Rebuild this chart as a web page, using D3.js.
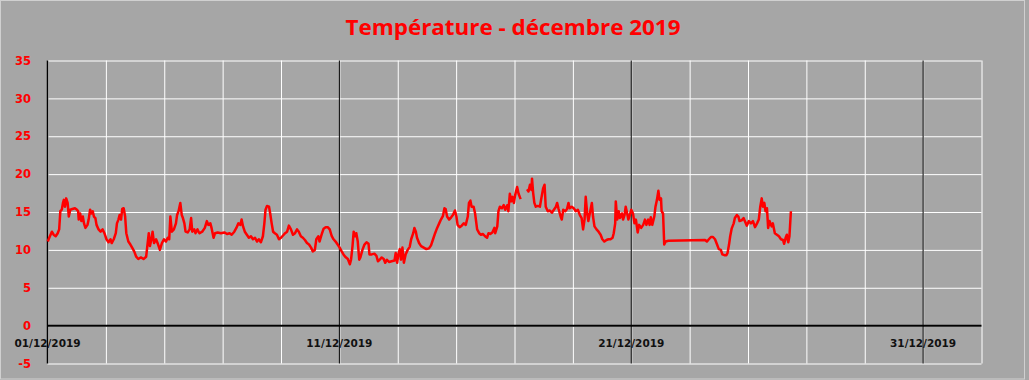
<!DOCTYPE html>
<html>
<meta charset="utf-8">
<head>
<title>Température - décembre 2019</title>
<style>
body { margin: 0; background: #a6a6a6; }
svg { display: block; }
</style>
<script src="https://d3js.org/d3.v7.min.js"></script>
</head>
<body>
<svg></svg>
<script>

var title = "Température - décembre 2019";

// days since 01/12/2019 00:00
var days = [
  0.01,0.06,0.15,0.21,0.28,0.35,0.40,0.44,0.49,0.53,
  0.56,0.60,0.64,0.69,0.73,0.78,0.85,0.94,1.01,1.05,
  1.07,1.12,1.16,1.21,1.25,1.30,1.37,1.41,1.46,1.50,
  1.55,1.59,1.64,1.68,1.75,1.82,1.89,1.95,2.02,2.09,
  2.16,2.20,2.27,2.34,2.38,2.43,2.47,2.52,2.56,2.61,
  2.66,2.70,2.77,2.84,2.90,2.97,3.04,3.11,3.20,3.29,
  3.38,3.42,3.47,3.51,3.56,3.60,3.65,3.72,3.79,3.85,
  3.92,3.99,4.06,4.12,4.17,4.21,4.26,4.33,4.40,4.44,
  4.49,4.55,4.60,4.64,4.69,4.73,4.80,4.87,4.92,4.96,
  5.03,5.07,5.14,5.19,
  5.21,5.30,5.39,5.46,5.51,5.58,5.62,5.69,5.74,5.83,
  5.94,6.06,6.15,6.24,6.31,6.40,6.47,6.54,6.61,6.65,
  6.70,6.76,6.83,6.90,6.97,7.04,7.11,7.18,7.24,7.31,
  7.38,7.43,7.47,7.52,7.59,7.63,7.68,7.73,7.79,7.86,
  7.93,8.00,8.07,8.14,8.21,8.27,8.34,8.41,8.48,8.55,
  8.61,8.68,8.75,8.82,8.89,8.96,9.03,9.09,9.16,9.21,
  9.28,9.32,9.39,9.46,9.53,9.60,9.67,9.74,9.80,9.87,
  9.94,10.01,10.08,10.14,
  10.20,10.29,10.36,10.40,10.45,10.49,10.54,10.58,10.63,10.68,
  10.72,10.79,10.86,10.93,11.00,11.03,11.11,11.20,11.27,11.32,
  11.38,11.45,11.52,11.57,11.63,11.70,11.79,11.89,11.93,11.98,
  12.02,12.07,12.11,12.16,12.21,12.27,12.34,12.41,12.46,12.53,
  12.57,12.62,12.66,12.73,12.80,12.89,12.98,13.07,13.14,13.21,
  13.28,13.35,13.42,13.48,13.55,13.60,13.64,13.69,13.76,13.83,
  13.89,13.96,14.01,14.05,14.12,14.19,14.26,14.33,14.40,14.44,
  14.49,14.53,14.60,14.65,14.72,14.79,14.85,14.92,14.99,15.06,
  15.11,15.17,15.24,15.31,
  15.34,15.41,15.45,15.50,15.57,15.63,15.68,15.75,15.79,15.84,
  15.89,15.93,15.98,16.02,16.09,16.14,16.21,16.32,
  16.43,16.48,16.53,16.58,16.60,16.64,16.68,16.73,16.80,16.87,
  16.91,16.98,17.03,17.07,17.14,17.21,17.28,17.35,17.42,17.46,
  17.51,17.58,17.62,17.67,17.74,17.80,17.85,17.89,17.96,18.03,
  18.10,18.17,18.24,18.30,18.35,18.40,18.44,18.49,18.53,18.58,
  18.65,18.69,18.74,18.81,18.88,18.95,19.01,19.08,19.15,19.22,
  19.29,19.36,19.40,19.45,19.47,19.52,19.57,19.61,19.68,19.72,
  19.77,19.81,19.86,19.90,19.95,20.00,20.06,20.11,20.16,20.22,
  20.27,20.34,20.41,
  20.47,20.52,20.58,20.63,20.67,20.72,20.79,20.83,20.88,20.93,
  20.97,21.02,21.04,21.09,21.13,21.18,21.27,22.53,22.59,22.66,
  22.73,22.80,22.87,22.94,23.00,23.07,23.12,23.19,23.26,23.30,
  23.35,23.39,23.44,23.51,23.55,23.62,23.67,23.71,23.78,23.85,
  23.89,23.96,24.03,24.10,24.17,24.24,24.31,24.37,24.42,24.47,
  24.51,24.56,24.60,24.65,24.69,24.74,24.81,24.85,24.92,24.99,
  25.06,25.13,25.20,25.24,25.29,25.33,25.38,25.42,25.47
];

// temperature (°C), null = no reading
var temps = [
  11.1,11.6,12.4,12.0,11.8,12.2,12.7,15.1,15.3,16.2,
  16.6,15.7,16.8,16.2,14.4,15.3,15.4,15.5,15.3,15.1,
  14.0,14.8,13.8,14.4,13.5,12.9,13.3,14.0,15.3,14.8,
  15.1,14.4,14.2,13.3,12.7,12.4,12.7,12.2,11.4,11.0,
  11.4,10.9,11.4,12.2,13.5,14.0,14.6,14.0,15.4,15.5,
  14.4,12.2,11.1,10.7,10.3,9.8,9.1,8.8,9.0,8.8,
  9.1,10.5,12.2,10.5,11.4,12.4,10.9,11.4,10.7,10.0,
  10.9,11.4,11.1,11.6,11.4,14.4,12.4,12.7,13.5,14.6,
  15.1,16.2,14.6,14.2,13.5,12.4,12.3,12.7,14.2,12.4,
  12.7,12.2,12.7,12.3,
  12.2,12.4,12.9,13.8,13.3,13.5,12.9,11.6,12.2,12.3,
  12.2,12.3,12.1,12.2,12.0,12.4,12.9,13.5,13.3,14.0,
  13.1,12.4,12.0,11.6,11.8,11.4,11.6,11.1,11.4,11.0,
  11.8,13.5,15.3,15.8,15.7,14.8,13.5,12.4,12.2,12.0,
  11.4,11.6,11.9,12.2,12.4,13.2,12.7,12.0,12.2,12.7,
  12.4,11.8,11.6,11.3,10.9,10.7,10.3,9.8,10.0,11.4,
  11.8,11.1,12.0,12.8,13.0,13.0,12.7,11.8,11.4,11.1,
  10.7,10.3,9.8,9.4,
  9.1,8.8,8.1,8.7,10.5,12.4,11.8,12.2,11.1,8.7,
  9.0,10.0,10.7,11.0,10.8,9.4,9.4,9.5,9.2,8.5,
  8.7,9.0,8.8,8.3,8.7,8.4,8.5,8.6,9.6,8.3,
  9.4,10.1,8.7,10.3,8.3,9.4,10.0,10.4,11.4,12.2,
  12.9,12.4,11.6,10.9,10.5,10.3,10.1,10.2,10.6,11.4,
  12.2,12.9,13.5,14.0,14.5,15.5,15.4,14.4,14.0,14.3,
  14.6,15.2,14.4,13.3,13.0,13.2,13.5,13.3,14.4,16.2,
  16.5,15.7,15.7,14.8,12.7,12.2,12.0,12.1,11.8,11.6,
  12.2,12.1,12.3,12.9,
  12.2,13.1,15.1,15.7,15.5,15.9,15.3,15.9,15.1,17.4,
  16.4,17.0,16.2,17.2,18.3,17.4,16.7,null,
  18.0,17.7,18.6,17.9,19.4,17.5,16.2,15.7,15.8,15.7,
  16.6,18.1,18.6,15.7,15.1,15.2,14.9,15.3,15.7,16.2,
  15.4,14.4,14.0,15.3,15.1,15.4,16.2,15.5,15.7,15.5,
  15.1,15.3,14.6,14.2,12.7,14.0,17.0,14.8,13.8,14.8,
  16.2,14.4,13.1,12.7,12.4,12.0,11.4,11.1,11.3,11.4,
  11.4,11.6,12.2,13.5,16.4,14.0,15.1,14.2,14.8,14.0,
  14.6,15.7,14.8,14.0,14.6,15.3,14.8,13.5,14.0,12.3,
  13.3,12.9,13.3,
  14.0,13.3,14.0,13.3,14.3,13.3,14.4,15.7,16.6,17.8,
  16.6,16.8,15.1,14.8,10.7,11.1,11.2,11.3,11.1,11.4,
  11.7,11.7,11.4,10.7,10.1,10.0,9.4,9.3,9.3,9.6,
  10.7,11.8,12.8,13.5,14.2,14.6,14.4,13.8,13.9,14.2,
  13.8,13.2,13.8,13.5,13.8,13.0,13.5,14.0,15.7,16.8,
  15.7,16.2,15.1,15.5,12.9,13.8,13.1,13.5,12.2,12.0,
  11.8,11.4,11.3,10.8,11.6,12.0,11.0,11.8,15.1
];

var yTicks = [-5, 0, 5, 10, 15, 20, 25, 30, 35];
var gridDays = [0, 2, 4, 6, 8, 10, 12, 14, 16, 18, 20, 22, 24, 26, 28, 30, 32];
var labelDays = [0, 10, 20, 30];

var width = 1029, height = 380;
var plotLeft = 47.5, plotRight = 981.5, plotTop = 60.5, plotBottom = 363.5;

var start = new Date(2019, 11, 1);
function toDate(d) { return new Date(+start + d * 864e5); }

var svg = d3.select("svg")
    .attr("width", width)
    .attr("height", height);

svg.append("rect")
    .attr("x", 0.5).attr("y", 0.5)
    .attr("width", width - 5).attr("height", height - 1.5)
    .attr("fill", "#a6a6a6")
    .attr("stroke", "#d0d0d0");

var x = d3.scaleTime()
    .domain([start, toDate(32)])
    .range([plotLeft, plotRight]);

var y = d3.scaleLinear()
    .domain([-5, 35])
    .range([plotBottom, plotTop]);

// horizontal grid
svg.append("g")
    .attr("transform", "translate(" + plotLeft + ",0)")
    .call(d3.axisLeft(y).tickValues(yTicks).tickSize(-(plotRight - plotLeft)).tickFormat(""))
    .call(g => g.select(".domain").remove())
    .selectAll("line")
    .attr("stroke", "#ffffff");

// vertical grid, every 2 days
svg.append("g")
    .attr("transform", "translate(0," + plotBottom + ")")
    .call(d3.axisBottom(x).tickValues(gridDays.map(toDate)).tickSize(-(plotBottom - plotTop)).tickFormat(""))
    .call(g => g.select(".domain").remove())
    .selectAll("line")
    .attr("stroke", "#ffffff");

// black lines every 10 days
svg.append("g")
    .selectAll("line")
    .data(labelDays)
    .enter().append("line")
    .attr("x1", d => x(toDate(d)))
    .attr("x2", d => x(toDate(d)))
    .attr("y1", plotTop)
    .attr("y2", plotBottom)
    .attr("stroke", "#000")
    .attr("stroke-width", d => d === 0 ? 1.5 : 1);

// zero axis
svg.append("line")
    .attr("x1", plotLeft).attr("x2", plotRight)
    .attr("y1", y(0)).attr("y2", y(0))
    .attr("stroke", "#000")
    .attr("stroke-width", 2);

// y labels
svg.append("g")
    .selectAll("text")
    .data(yTicks)
    .enter().append("text")
    .attr("x", 31)
    .attr("y", d => y(d))
    .attr("dy", "0.36em")
    .attr("text-anchor", "end")
    .attr("fill", "#ff0000")
    .attr("font-family", "DejaVu Sans")
    .attr("font-weight", "bold")
    .attr("font-size", "11.5px")
    .text(d => d);

// x labels
var fmt = d3.timeFormat("%d/%m/%Y");
svg.append("g")
    .selectAll("text")
    .data(labelDays)
    .enter().append("text")
    .attr("x", d => x(toDate(d)))
    .attr("y", 347)
    .attr("text-anchor", "middle")
    .attr("fill", "#111")
    .attr("font-family", "DejaVu Sans")
    .attr("font-weight", "bold")
    .attr("font-size", "10.5px")
    .text(d => fmt(toDate(d)));

// title
svg.append("text")
    .attr("x", 513)
    .attr("y", 35)
    .attr("text-anchor", "middle")
    .attr("fill", "#ff0000")
    .attr("font-family", "Open Sans")
    .attr("font-weight", "bold")
    .attr("font-size", "22px")
    .attr("textLength", 335)
    .attr("lengthAdjust", "spacingAndGlyphs")
    .text(title);

// temperature line
var points = days.map((d, i) => ({ date: toDate(d), t: temps[i] }));

var line = d3.line()
    .defined(d => d.t !== null)
    .x(d => x(d.date))
    .y(d => y(d.t));

svg.append("path")
    .datum(points)
    .attr("d", line)
    .attr("fill", "none")
    .attr("stroke", "#ff0000")
    .attr("stroke-width", 2.5)
    .attr("stroke-linejoin", "round");

</script>
</body>
</html>
